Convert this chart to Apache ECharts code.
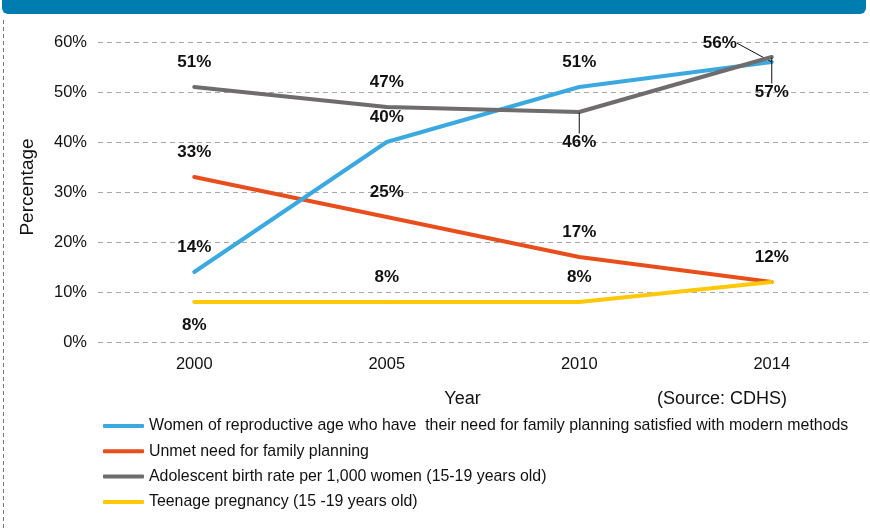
<!DOCTYPE html>
<html>
<head>
<meta charset="utf-8">
<script src="https://cdn.jsdelivr.net/npm/echarts@6/dist/echarts.min.js"></script>
<style>
html,body{margin:0;padding:0;background:#fff;}
#chart{width:870px;height:530px;}
</style>
</head>
<body>
<div id="chart"></div>
<script>
var years = ['2000', '2005', '2010', '2014'];
var seriesNames = [
  'Women of reproductive age who have  their need for family planning satisfied with modern methods',
  'Unmet need for family planning',
  'Adolescent birth rate per 1,000 women (15-19 years old)',
  'Teenage pregnancy (15 -19 years old)'
];
var womenSatisfied = [14, 40, 51, 56];
var unmetNeed = [33, 25, 17, 12];
var adolescentBirth = [51, 47, 46, 57];
var teenPregnancy = [8, 8, 8, 12];
var yTicks = [0, 10, 20, 30, 40, 50, 60];
var colors = ['#3BA9E0', '#E84E1C', '#6E6C6D', '#FFC808'];

var labelFont = '"Liberation Sans", Arial, Helvetica, sans-serif';
var textFont = '"Liberation Sans", Arial, Helvetica, sans-serif';

// label placement per series / point: [position, distance, showLeader, hidden]
var labelPlacement = [
  [['top',16],['top',16],['top',16],['top',16,true]],
  [['top',16],['top',16],['top',16],['top',16]],
  [['top',16],['top',16],['bottom',21,true],['bottom',26,true]],
  [['bottom',14],['top',16],['top',16],['top',16,false,true]]
];

function buildData(values, si) {
  return values.map(function (v, i) {
    var p = labelPlacement[si][i];
    var item = {
      value: v,
      label: { show: !p[3], position: p[0], distance: p[1] }
    };
    if (p[2]) {
      item.labelLine = { show: true, lineStyle: { color: '#111', width: 1 } };
    }
    return item;
  });
}

var valueSets = [womenSatisfied, unmetNeed, adolescentBirth, teenPregnancy];
var series = valueSets.map(function (vals, si) {
  return {
    name: seriesNames[si],
    type: 'line',
    data: buildData(vals, si),
    symbol: 'circle',
    symbolSize: 1,
    showSymbol: true,
    lineStyle: { width: 4, color: colors[si], cap: 'round', join: 'round' },
    itemStyle: { color: colors[si] },
    emphasis: { disabled: true },
    z: si === 2 ? 4 : (si === 0 ? 3 : 2),
    label: {
      show: true,
      formatter: '{c}%',
      fontFamily: labelFont,
      fontWeight: 'bold',
      fontSize: 17,
      color: '#111'
    },
    labelLayout: function (params) {
      if (params.seriesIndex === 0 && params.dataIndex === 3) {
        return { dx: -52, dy: 6 };
      }
      return {};
    }
  };
});

var chart = echarts.init(document.getElementById('chart'), null, { renderer: 'canvas' });
chart.setOption({
  animation: false,
  backgroundColor: '#fff',
  color: colors,
  grid: { left: 98, right: 2, top: 42, bottom: 188, containLabel: false },
  xAxis: {
    type: 'category',
    data: years,
    boundaryGap: true,
    axisLine: { show: false },
    axisTick: { show: false },
    axisLabel: { margin: 14, fontFamily: textFont, fontSize: 16.5, color: '#111' }
  },
  yAxis: {
    type: 'value',
    min: yTicks[0],
    max: yTicks[yTicks.length - 1],
    interval: 10,
    axisLine: { show: false },
    axisTick: { show: false },
    axisLabel: { margin: 11, formatter: '{value}%', fontFamily: textFont, fontSize: 16.5, color: '#111' },
    splitLine: { show: true, lineStyle: { color: '#A8A8A8', width: 1, type: [5, 4] } }
  },
  legend: {
    orient: 'vertical',
    left: 98,
    top: 413,
    itemWidth: 41,
    itemHeight: 4,
    itemGap: 9.3,
    icon: 'roundRect',
    selectedMode: false,
    data: seriesNames,
    textStyle: { fontFamily: textFont, fontSize: 15.9, color: '#111' }
  },
  graphic: [
    {
      type: 'rect',
      shape: { x: 2, y: -10, width: 864, height: 24, r: 6 },
      style: { fill: '#007DB0' },
      silent: true
    },
    {
      type: 'line',
      shape: { x1: 3.5, y1: 20, x2: 3.5, y2: 530 },
      style: { stroke: '#777', lineWidth: 1, lineDash: [4, 3] },
      silent: true
    },
    {
      type: 'text',
      x: 27.5, y: 187,
      rotation: Math.PI / 2,
      style: { text: 'Percentage', fontFamily: textFont, fontSize: 19, fill: '#111', textAlign: 'center', textVerticalAlign: 'middle' },
      silent: true
    },
    {
      type: 'text',
      x: 462.5, y: 399,
      style: { text: 'Year', fontFamily: textFont, fontSize: 18, fill: '#111', textAlign: 'center', textVerticalAlign: 'middle' },
      silent: true
    },
    {
      type: 'text',
      x: 722, y: 399,
      style: { text: '(Source: CDHS)', fontFamily: textFont, fontSize: 18, fill: '#111', textAlign: 'center', textVerticalAlign: 'middle' },
      silent: true
    }
  ],
  series: series
});
</script>
</body>
</html>
